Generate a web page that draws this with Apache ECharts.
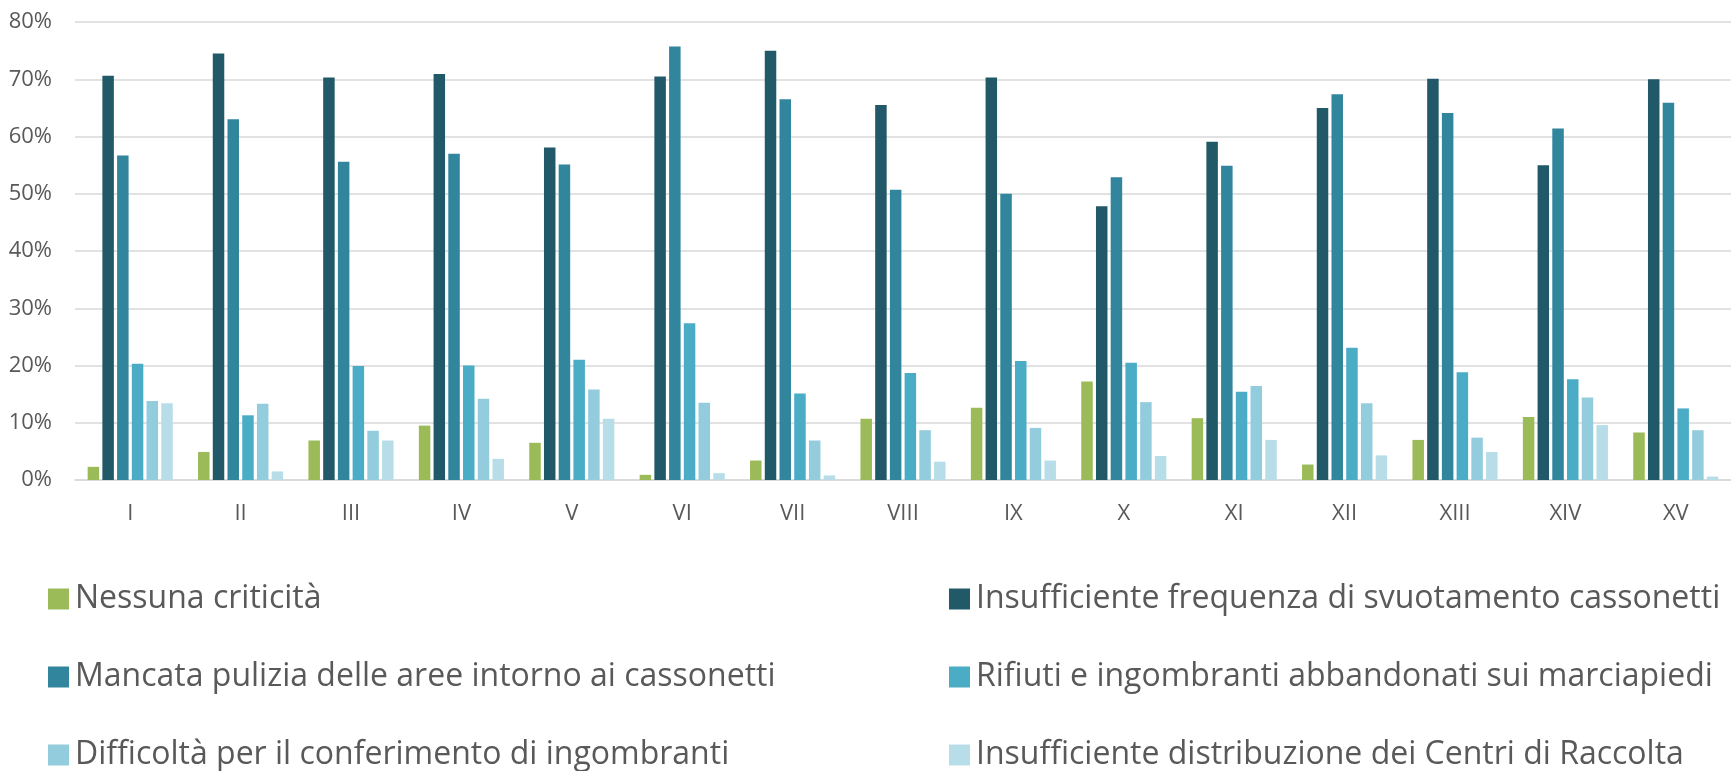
<!DOCTYPE html>
<html>
<head>
<meta charset="utf-8">
<script src="https://cdn.jsdelivr.net/npm/echarts@6/dist/echarts.min.js"></script>
<style>
html,body{margin:0;padding:0;background:#fff;}
#chart{width:1731px;height:771px;}
</style>
</head>
<body>
<div id="chart"></div>
<script>
const categories = ['I','II','III','IV','V','VI','VII','VIII','IX','X','XI','XII','XIII','XIV','XV'];
const seriesNames = [
  'Nessuna criticità',
  'Insufficiente frequenza di svuotamento cassonetti',
  'Mancata pulizia delle aree intorno ai cassonetti',
  'Rifiuti e ingombranti abbandonati sui marciapiedi',
  'Difficoltà per il conferimento di ingombranti',
  'Insufficiente distribuzione dei Centri di Raccolta'
];
const nessunaCriticita     = [2.3, 4.9, 6.9, 9.5, 6.5, 0.9, 3.4, 10.7, 12.6, 17.2, 10.8, 2.7, 7.0, 11.0, 8.3];
const frequenzaSvuotamento = [70.6, 74.5, 70.3, 70.9, 58.1, 70.5, 75.0, 65.5, 70.3, 47.8, 59.1, 65.0, 70.1, 55.0, 70.0];
const pulizieAree          = [56.7, 63.0, 55.6, 57.0, 55.1, 75.7, 66.5, 50.7, 50.0, 52.9, 54.9, 67.4, 64.1, 61.4, 65.9];
const rifiutiAbbandonati   = [20.3, 11.3, 19.9, 20.0, 21.0, 27.4, 15.1, 18.7, 20.8, 20.5, 15.4, 23.1, 18.8, 17.6, 12.5];
const difficoltaIngombranti= [13.8, 13.3, 8.6, 14.2, 15.8, 13.5, 6.9, 8.7, 9.1, 13.6, 16.4, 13.4, 7.4, 14.4, 8.7];
const centriRaccolta       = [13.4, 1.5, 6.9, 3.7, 10.7, 1.2, 0.8, 3.2, 3.4, 4.2, 7.0, 4.3, 4.9, 9.6, 0.6];
const yTicks = [0, 10, 20, 30, 40, 50, 60, 70, 80];

const seriesData = [nessunaCriticita, frequenzaSvuotamento, pulizieAree, rifiutiAbbandonati, difficoltaIngombranti, centriRaccolta];
const colors = ['#9BBB59', '#215968', '#31859C', '#4BACC6', '#93CDDD', '#B7DEE8'];
const textColor = '#595959';
const font = "'Open Sans', 'Noto Sans', sans-serif";

const chart = echarts.init(document.getElementById('chart'), null, {renderer: 'canvas'});
const legendText = {color: textColor, fontSize: 32, fontFamily: font, padding: [0, 0, 0, 1]};
const legendLeft = [43, 944];
const legendTop = [578, 656, 734];
const legends = seriesNames.map((name, i) => ({
  orient: 'horizontal',
  left: legendLeft[i % 2],
  top: legendTop[Math.floor(i / 2)],
  itemWidth: 21, itemHeight: 21,
  icon: 'rect',
  textStyle: legendText,
  data: [name]
}));

chart.setOption({
  animation: false,
  color: colors,
  grid: {left: 75, right: 0, top: 22, bottom: 291, containLabel: false},
  legend: legends,
  xAxis: {
    type: 'category',
    data: categories,
    axisTick: {show: false},
    axisLine: {lineStyle: {color: '#d9d9d9', width: 1.5}},
    axisLabel: {color: textColor, fontSize: 22, fontFamily: font, margin: 23}
  },
  yAxis: {
    type: 'value',
    min: yTicks[0],
    max: yTicks[yTicks.length - 1],
    interval: 10,
    axisLine: {show: false},
    axisTick: {show: false},
    splitLine: {lineStyle: {color: '#d9d9d9', width: 1.5}},
    axisLabel: {color: textColor, fontSize: 22, fontFamily: font, margin: 23, formatter: '{value}%'}
  },
  series: seriesNames.map((name, i) => ({
    name: name,
    type: 'bar',
    data: seriesData[i],
    barWidth: 11.5,
    barGap: '28%',
    itemStyle: {color: colors[i]}
  }))
});
</script>
</body>
</html>
